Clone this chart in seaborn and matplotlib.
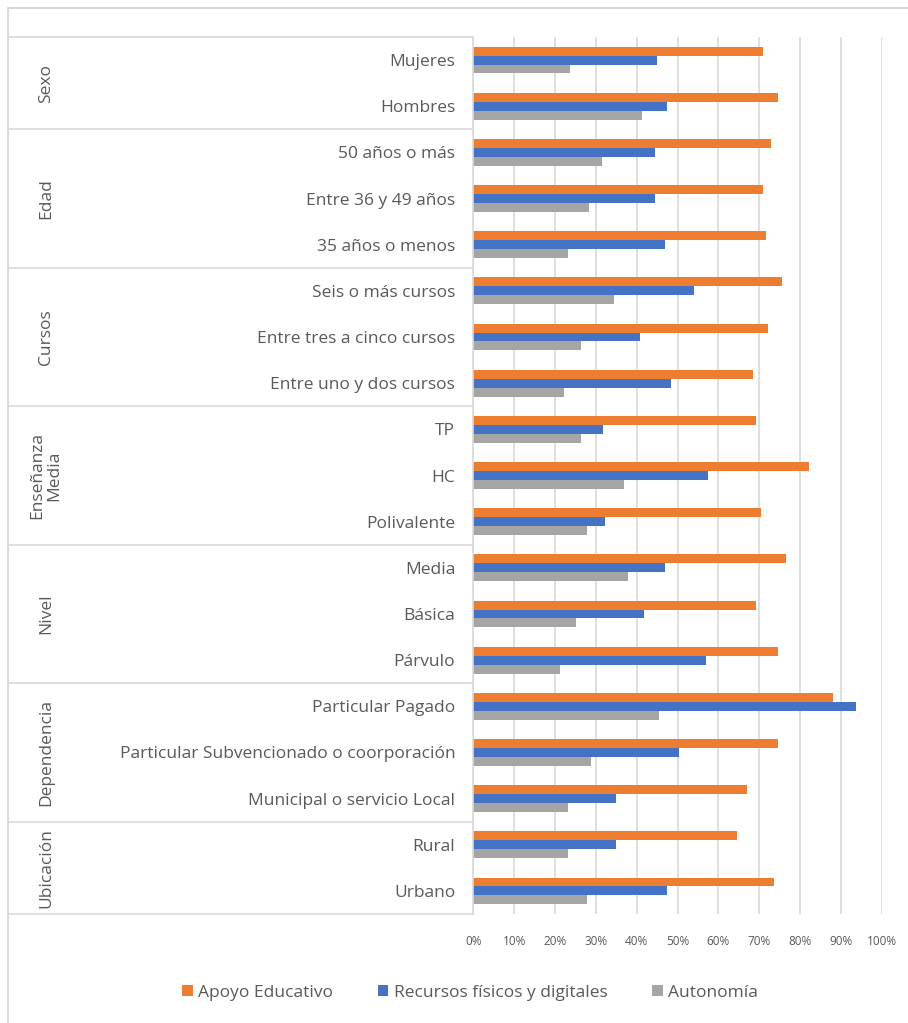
import pandas as pd
import matplotlib.pyplot as plt
import matplotlib.transforms as mtransforms
from matplotlib.lines import Line2D
from matplotlib.patches import Patch
import seaborn as sns

# datos
grupos = ["Sexo", "Edad", "Cursos", "Enseñanza\nMedia", "Nivel", "Dependencia", "Ubicación"]
n_por_grupo = [2, 3, 3, 3, 3, 3, 2]
categorias = [
    "Mujeres", "Hombres",
    "50 años o más", "Entre 36 y 49 años", "35 años o menos",
    "Seis o más cursos", "Entre tres a cinco cursos", "Entre uno y dos cursos",
    "TP", "HC", "Polivalente",
    "Media", "Básica", "Párvulo",
    "Particular Pagado", "Particular Subvencionado o coorporación", "Municipal o servicio Local",
    "Rural", "Urbano",
]
series = ["Apoyo Educativo", "Recursos físicos y digitales", "Autonomía"]
apoyo = [0.71, 0.746, 0.73, 0.71, 0.716, 0.755, 0.721, 0.686, 0.691, 0.821, 0.705,
         0.765, 0.691, 0.746, 0.881, 0.746, 0.670, 0.646, 0.736]
recursos = [0.449, 0.474, 0.444, 0.444, 0.469, 0.540, 0.409, 0.484, 0.318, 0.575, 0.323,
            0.469, 0.419, 0.570, 0.937, 0.504, 0.349, 0.349, 0.474]
autonomia = [0.238, 0.414, 0.314, 0.283, 0.233, 0.344, 0.263, 0.223, 0.263, 0.369, 0.278,
             0.379, 0.252, 0.213, 0.455, 0.288, 0.233, 0.233, 0.278]
colores = ["#ED7D31", "#4472C4", "#A5A5A5"]

df = pd.DataFrame({
    "categoria": categorias * 3,
    "serie": [s for s in series for _ in categorias],
    "valor": apoyo + recursos + autonomia,
})

texto = "#595959"
linea = "#D9D9D9"
plt.rcParams["font.family"] = ["Open Sans", "DejaVu Sans"]

W, H = 908, 1023
fig = plt.figure(figsize=(W / 100, H / 100), dpi=100)
x0, x1, y0, y1 = 473.3, 881.7, 37, 914
ax = fig.add_axes([x0 / W, 1 - y1 / H, (x1 - x0) / W, (y1 - y0) / H])

sns.barplot(data=df, y="categoria", x="valor", hue="serie", order=categorias,
            hue_order=series, palette=colores, orient="h", errorbar=None,
            width=0.58, saturation=1, linewidth=0, legend=False, ax=ax)

ax.set_xlim(0, 1)
ax.set_ylim(len(categorias) - 0.5, -0.5)
ax.set_xticks([i / 10 for i in range(11)])
ax.set_xticklabels([f"{i * 10}%" for i in range(11)], fontsize=8.5, color=texto)
ax.tick_params(axis="x", length=0, pad=15)
ax.tick_params(axis="y", length=0, pad=13, labelsize=12.5, labelcolor=texto)
ax.set_xlabel("")
ax.set_ylabel("")
ax.grid(axis="x", color=linea, linewidth=1.2)
ax.set_axisbelow(True)
for s in ["top", "right", "bottom"]:
    ax.spines[s].set_visible(False)
ax.spines["left"].set_color(linea)
ax.spines["left"].set_linewidth(1.2)

# tabla de grupos a la izquierda
trans = mtransforms.blended_transform_factory(ax.transAxes, ax.transData)
xizq = (8 - x0) / (x1 - x0)
xlab = (46 - x0) / (x1 - x0)
inicio = -0.5
ax.plot([xizq, 0], [inicio, inicio], transform=trans, color=linea, lw=1.2, clip_on=False)
for g, n in zip(grupos, n_por_grupo):
    fin = inicio + n
    ax.plot([xizq, 0], [fin, fin], transform=trans, color=linea, lw=1.2, clip_on=False)
    ax.text(xlab, (inicio + fin) / 2, g, transform=trans, rotation=90, ha="center",
            va="center", fontsize=12.5, color=texto, linespacing=1.05)
    inicio = fin

# marco exterior
fig.add_artist(Line2D([8 / W, 8 / W], [0, 1 - 8 / H], color=linea, lw=1.5))
fig.add_artist(Line2D([8 / W, 1], [1 - 8 / H, 1 - 8 / H], color=linea, lw=1.5))

handles = [Patch(facecolor=c, label=s) for c, s in zip(colores, series)]
fig.legend(handles=handles, loc="center", bbox_to_anchor=(470 / W, 1 - 993 / H), ncol=3,
           frameon=False, handlelength=0.6, handleheight=0.6, handletextpad=0.3,
           columnspacing=2.6, labelcolor=texto, fontsize=12.5)

fig.savefig("out.png", dpi=100)
